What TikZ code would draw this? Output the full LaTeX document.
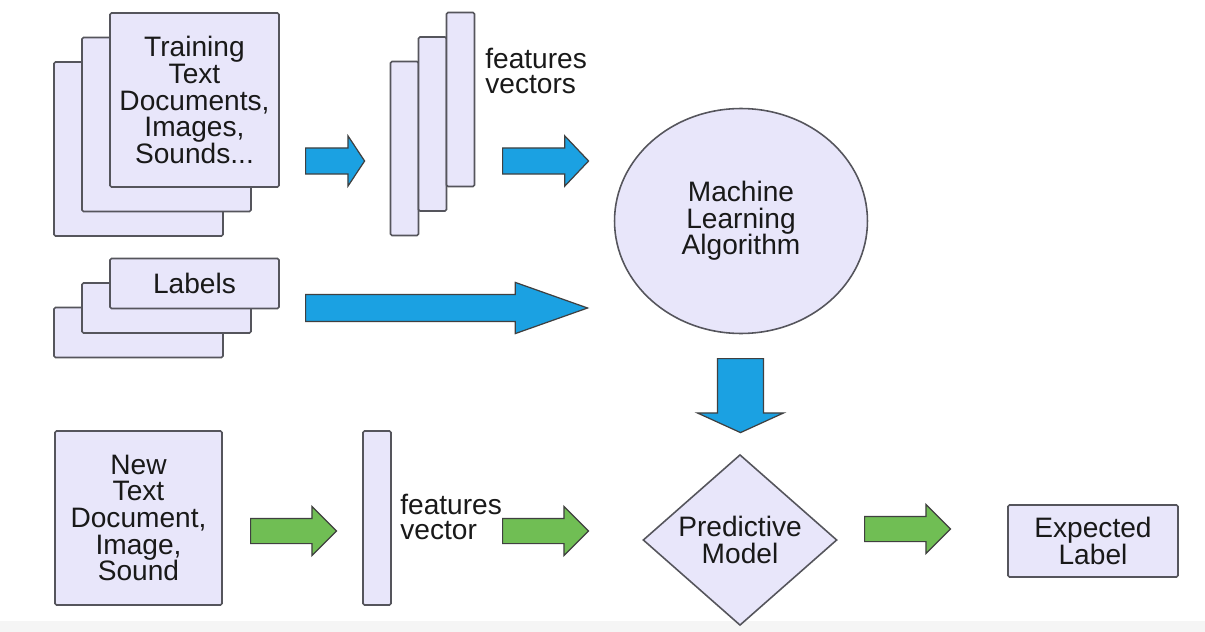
\documentclass[tikz,border=0pt]{standalone}
\usepackage{fontspec}
\setmainfont{Liberation Sans}
\usetikzlibrary{shapes.geometric, shapes.arrows, positioning}
\definecolor{boxfill}{RGB}{232,230,250}
\definecolor{edgegray}{RGB}{85,85,92}
\definecolor{arrowblue}{RGB}{27,161,226}
\definecolor{arrowgreen}{RGB}{112,190,84}

\begin{document}
\begin{tikzpicture}[
    x=0.02cm, y=-0.02cm, % slide pixels, y going down
    every node/.style={font=\fontsize{16}{15.2}\selectfont, text=black!90, align=center},
    docbox/.style={rectangle, draw=edgegray, fill=boxfill, line width=0.9pt, rounded corners=0.8pt, inner sep=0pt, minimum width=3.38cm, minimum height=3.48cm},
    labelbox/.style={docbox, minimum height=1.0cm},
    vecbar/.style={docbox, minimum width=0.56cm},
    stackstep/.style={on grid, above right=0.49cm and 0.56cm of #1}, % next sheet of a pile
    vectext/.style={anchor=west, align=left, inner sep=0pt, font=\fontsize{16}{14.2}\selectfont},
    % shaft = 2 * inner ysep, head = shaft + 2 * head extend, placed by its tail
    blockarrow/.style={single arrow, anchor=tail, draw=black!75, line width=0.7pt, inner sep=0pt, inner ysep=0.25cm, single arrow head extend=0.24cm},
    bluearrow/.style={blockarrow, fill=arrowblue},
    greenarrow/.style={blockarrow, fill=arrowgreen, inner ysep=0.24cm, single arrow tip angle=90, minimum height=1.72cm}
  ]
  \useasboundingbox (0,0) rectangle (1205,632);
  \fill[black!4] (0,621) rectangle (1205,632);

  % training data pile
  \node[docbox] (train3) at (138.5,149) {};
  \node[docbox, stackstep=train3] (train2) {};
  \node[docbox, stackstep=train2] (train1) {Training\\Text\\Documents,\\Images,\\Sounds...};

  % features vectors pile
  \node[vecbar] (vec3) at (404.5,148.5) {};
  \node[vecbar, stackstep=vec3] (vec2) {};
  \node[vecbar, stackstep=vec2] (vec1) {};
  \node[vectext] (vectors) at (485,71) {features\\vectors};

  % labels pile
  \node[labelbox] (lab3) at (138.5,332.5) {};
  \node[labelbox, stackstep=lab3] (lab2) {};
  \node[labelbox, stackstep=lab2] (lab1) {Labels};

  % learning
  \node[ellipse, draw=edgegray, fill=boxfill, line width=0.9pt, inner sep=0pt, minimum width=5.06cm, minimum height=4.5cm] (algo) at (741,221) {Machine\\Learning\\Algorithm};

  \node[bluearrow, minimum height=1.18cm, single arrow tip angle=113] (toVec) at (305,161) {};
  \node[bluearrow, minimum height=1.72cm, single arrow tip angle=93] (vecToAlgo) at (502,161) {};
  \node[bluearrow, inner ysep=0.26cm, minimum height=5.64cm, single arrow tip angle=39] (labToAlgo) at (305,308) {};
  \node[bluearrow, rotate=-90, inner ysep=0.45cm, single arrow head extend=0.4cm, minimum height=1.48cm, single arrow tip angle=131] (algoToModel) at (740.5,358) {};

  % prediction
  \node[docbox, minimum width=3.34cm] (newdoc) at (138.5,518) {New\\Text\\Document,\\Image,\\Sound};
  \node[vecbar] (newvec) at (377,518) {};
  \node[vectext] (newvector) at (400,517) {features\\vector};
  \node[diamond, draw=edgegray, fill=boxfill, line width=0.9pt, inner sep=0pt, minimum width=3.88cm, minimum height=3.4cm] (model) at (740,540) {Predictive\\Model};
  \node[docbox, minimum width=3.4cm, minimum height=1.44cm] (expected) at (1093,541) {Expected\\Label};

  \node[greenarrow] (toNewVec) at (250,531) {};
  \node[greenarrow] (newVecToModel) at (502,531) {};
  \node[greenarrow] (modelToLabel) at (864,529) {};
\end{tikzpicture}
\end{document}
